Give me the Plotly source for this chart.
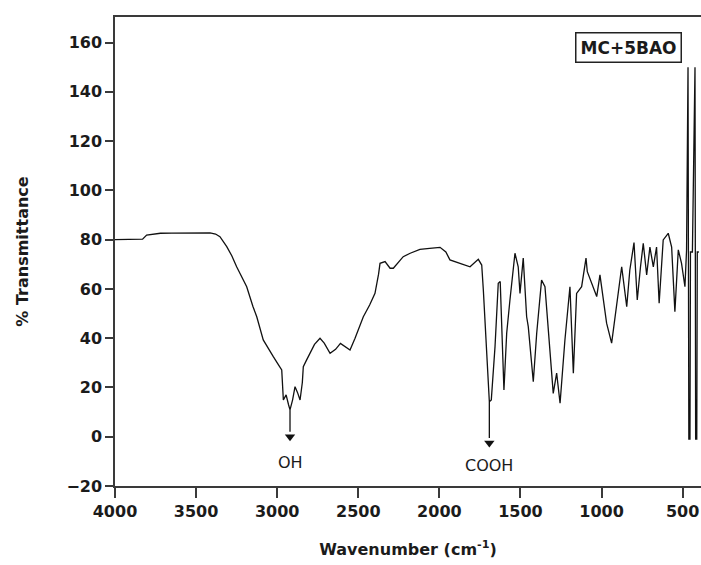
import plotly.graph_objects as go

# Wavenumber (cm-1) and % transmittance
wavenumber = [4000, 3920, 3830, 3805, 3760, 3720, 3650, 3580, 3500, 3414, 3380, 3353, 3311,
              3280, 3250, 3220, 3188, 3150, 3126, 3086, 3050, 3024, 2990, 2972, 2962, 2945,
              2930, 2921, 2905, 2890, 2875, 2859, 2845, 2839, 2820, 2798, 2770, 2736, 2710,
              2674, 2640, 2610, 2582, 2551, 2520, 2469, 2430, 2397, 2375, 2366, 2335, 2304,
              2284, 2250, 2223, 2180, 2120, 2060, 1996, 1960, 1935, 1873, 1811, 1760, 1739,
              1729, 1709, 1692, 1680, 1670, 1657, 1637, 1625, 1602, 1585, 1565, 1534, 1514,
              1503, 1483, 1462, 1452, 1421, 1400, 1370, 1349, 1318, 1298, 1277, 1256, 1226,
              1195, 1174, 1154, 1123, 1096, 1088, 1051, 1030, 1010, 969, 938, 907, 876, 845,
              826, 800, 780, 760, 743, 722, 702, 681, 661, 645, 620, 589, 568, 548, 527, 507,
              486, 476, 470, 467, 462, 455, 452, 440, 424, 420, 413, 410, 400]
transmittance = [80.0, 80.1, 80.2, 81.9, 82.3, 82.6, 82.7, 82.8, 82.8, 82.8, 82.3, 81.2, 77.2,
                 73.5, 69.0, 65.0, 60.9, 53.0, 48.7, 39.3, 35.0, 32.5, 29.0, 27.1, 14.9, 17.0,
                 13.0, 10.9, 15.0, 20.3, 18.0, 14.9, 22.0, 28.4, 31.0, 33.9, 37.5, 40.0, 38.0,
                 33.9, 35.5, 37.9, 36.5, 35.2, 40.0, 48.7, 53.5, 58.2, 66.0, 70.4, 71.1, 68.4,
                 68.4, 71.0, 73.1, 74.5, 76.1, 76.5, 76.9, 75.0, 71.8, 70.4, 69.0, 72.0, 69.7,
                 59.6, 33.9, 14.2, 14.9, 25.0, 36.6, 62.3, 63.0, 19.0, 42.0, 55.5, 74.5, 69.0,
                 58.2, 72.5, 48.7, 44.7, 22.3, 42.0, 63.6, 60.9, 32.5, 17.6, 25.8, 13.6, 39.3,
                 60.9, 25.8, 58.2, 60.9, 72.5, 67.0, 60.9, 56.9, 65.7, 46.1, 38.0, 52.8, 69.0,
                 52.8, 67.6, 78.8, 55.5, 69.0, 78.5, 65.7, 77.0, 69.0, 77.0, 54.2, 79.9, 82.6,
                 77.0, 50.8, 75.9, 70.4, 60.9, 75.8, 121.0, 150.0, -1.0, -1.0, 75.0, 75.0,
                 150.0, -1.0, -1.0, 75.0, 75.0]

x_ticks = [4000, 3500, 3000, 2500, 2000, 1500, 1000, 500]
y_ticks = [-20, 0, 20, 40, 60, 80, 100, 120, 140, 160]

# band labels: text, wavenumber, minimum of band, arrow tip, label height
band_labels = ["OH", "COOH"]
band_positions = [2921, 1692]
band_minima = [10.9, 14.2]
arrow_tips = [0.0, -2.5]
label_levels = [-10.5, -11.5]

sample_label = "MC+5BAO"

FONT = "DejaVu Sans"
TXT = "#1b1b1b"
AX = "#3a3a3a"
INK = "#111111"

fig = go.Figure()
fig.add_trace(go.Scatter(x=wavenumber, y=transmittance, mode="lines",
                         line=dict(color=INK, width=1.3), showlegend=False,
                         hoverinfo="skip"))

# arrow shafts
for xpos, ymin, tip in zip(band_positions, band_minima, arrow_tips):
    fig.add_shape(type="line", x0=xpos, x1=xpos, y0=ymin, y1=tip + 2,
                  xref="x", yref="y", line=dict(color=INK, width=1.3))
# arrow heads
fig.add_trace(go.Scatter(x=band_positions, y=arrow_tips, mode="markers",
                         marker=dict(symbol="triangle-down", size=9, color=INK,
                                     line=dict(width=0)),
                         showlegend=False, hoverinfo="skip"))
# band texts
for txt, xpos, lvl in zip(band_labels, band_positions, label_levels):
    fig.add_annotation(x=xpos, y=lvl, xref="x", yref="y", text=txt, showarrow=False,
                       xanchor="center", yanchor="middle",
                       font=dict(family=FONT, size=16, color=TXT))

fig.add_annotation(x=0.877, y=0.934, xref="paper", yref="paper", xanchor="center",
                   yanchor="middle", text="<b>" + sample_label + "</b>",
                   showarrow=False, bordercolor="#222222", borderwidth=1.5, borderpad=4,
                   bgcolor="white", font=dict(family=FONT, size=17, color=TXT))

fig.update_layout(
    width=701, height=565,
    margin=dict(l=115, r=0, t=17, b=79),
    paper_bgcolor="white", plot_bgcolor="white",
    font=dict(family=FONT, color=TXT),
    xaxis=dict(range=[4000, 387], tickvals=x_ticks, ticktext=[str(v) for v in x_ticks],
               ticks="outside", ticklen=10, tickwidth=1.5, tickcolor=AX,
               showline=True, linecolor=AX, linewidth=1.5, mirror=True,
               showgrid=False, zeroline=False,
               tickfont=dict(family=FONT, size=16, color=TXT, weight="bold"),
               title=dict(text="Wavenumber (cm<sup>-1</sup>)", standoff=24,
                          font=dict(family=FONT, size=16, color=TXT, weight="bold"))),
    yaxis=dict(range=[-20, 170.4], tickvals=y_ticks,
               ticks="outside", ticklen=8, tickwidth=1.5, tickcolor=AX,
               showline=True, linecolor=AX, linewidth=1.5, mirror=False,
               showgrid=False, zeroline=False,
               tickfont=dict(family=FONT, size=16, color=TXT, weight="bold"),
               title=dict(text="% Transmittance", standoff=34,
                          font=dict(family=FONT, size=16, color=TXT, weight="bold"))),
)

fig.write_html("out.html")
